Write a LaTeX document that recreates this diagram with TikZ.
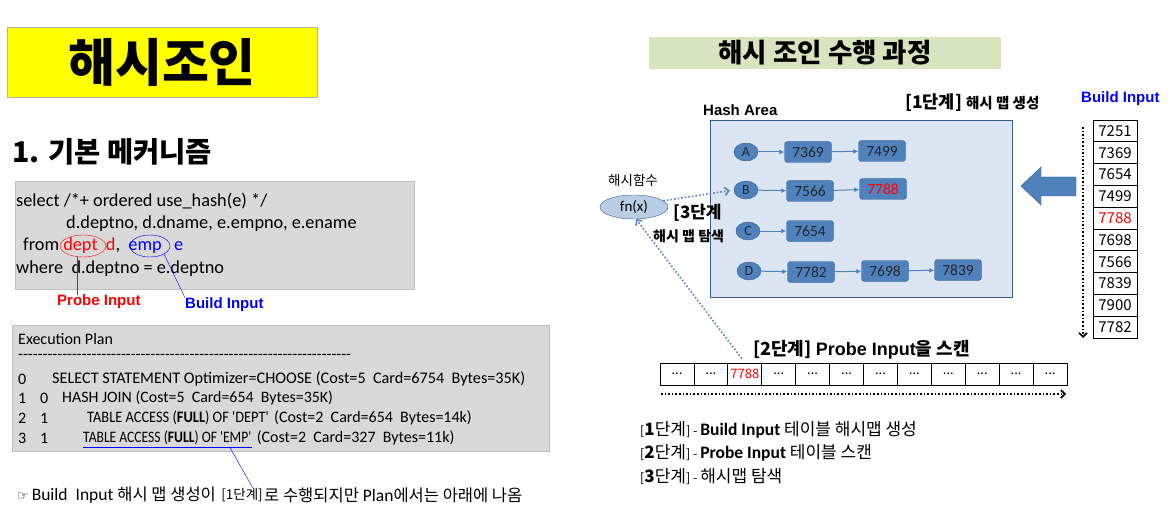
\documentclass[tikz,border=0pt]{standalone}
\usepackage{fontspec}
\setmainfont{Carlito}[Ligatures=TeXOff]
\newfontfamily\kr{Noto Sans CJK KR}
\newfontfamily\lab{Liberation Sans}
\newfontfamily\sym{DejaVu Sans}
\usetikzlibrary{positioning,calc,arrows.meta,shapes.geometric}
\newcommand\fsz[1]{\fontsize{#1}{#1}\selectfont}
\newcommand\skipped{...}
\newcommand\narrow[2][0.9]{\scalebox{#1}[1]{#2}}
\definecolor{boxgray}{HTML}{D9D9D9}
\definecolor{edgegray}{HTML}{BFBFBF}
\definecolor{titleyellow}{HTML}{FFFF00}
\definecolor{titlegreen}{HTML}{D7E4BD}
\definecolor{areablue}{HTML}{DCE6F2}
\definecolor{nodeblue}{HTML}{4F81BD}
\definecolor{darkblue}{HTML}{385D8A}
\definecolor{fnblue}{HTML}{B9CDE5}
\definecolor{dotblue}{HTML}{5B82B5}
\definecolor{sqlred}{HTML}{FF0000}
\definecolor{sqlblue}{HTML}{0000FF}

\begin{document}
\begin{tikzpicture}[x=1pt,y=-1pt,
	txt/.style={inner sep=0pt,anchor=west},
	sql/.style={txt,font=\fsz{18.3}},
	plan/.style={txt,font=\fsz{16}},
	graybox/.style={draw=edgegray,fill=boxgray,inner sep=0pt},
	bucket/.style={ellipse,draw=darkblue,fill=nodeblue,minimum width=24pt,minimum height=18pt,inner sep=0pt,font=\fsz{14},text=black!85},
	rec/.style={draw=darkblue,fill=nodeblue,rounded corners=3pt,minimum width=47pt,minimum height=21pt,inner sep=0pt,font=\fsz{15.5},text=black!85},
	link/.style={-{Latex[length=5pt,width=5pt]},nodeblue,line width=1pt},
	incell/.style={draw,line width=0.8pt,fill=white,minimum width=44pt,minimum height=21.8pt,inner sep=0pt,font=\kr\fsz{15}},
	prcell/.style={draw,line width=0.8pt,fill=white,minimum width=33.92pt,minimum height=22pt,inner sep=0pt,font=\kr\fsz{13}},
	scan/.style={dotted,line width=1.6pt,-{Straight Barb[length=4pt,width=8pt]}},
	boldlab/.style={txt,font=\lab\bfseries\fsz{15}}]
	\useasboundingbox (0,0) rectangle (1168,516);

	\node[draw=gray!60,fill=titleyellow,minimum width=310pt,minimum height=70pt] (title) at (162,62) {};
	\node[font=\kr\bfseries\fsz{51},inner sep=0pt] at (title) {해시조인};
	\node[txt,font=\kr\bfseries\fsz{28.5}] (head) at (12,152) {1. 기본 메커니즘};

	\node[graybox,minimum width=399pt,minimum height=108pt] (sqlbox) at (214.5,235) {};
	\node[sql] (q1) at (16,201) {select /*+ ordered use\_hash(e) */};
	\node[sql] (q2) at (66,224) {d.deptno, d.dname, e.empno, e.ename};
	\node[sql] (q3) at (23,246) {from\ \textcolor{sqlred}{dept\ \ d},\ \ \textcolor{sqlblue}{emp\ \ \ e}};
	\node[sql] (q4) at (16,269) {where\ \ d.deptno = e.deptno};
	\node[ellipse,draw=sqlred,minimum width=46pt,minimum height=22pt] (deptmark) at (83,246) {};
	\node[ellipse,draw=sqlblue,minimum width=40pt,minimum height=22pt] (empmark) at (150,246) {};
	\node[boldlab,text=sqlred] (probelbl) at (57,302) {Probe Input};
	\node[boldlab,text=sqlblue] (buildlbl) at (185,305) {Build Input};
	\draw[sqlred] (deptmark.240) -- (deptmark.240 |- probelbl.north);
	\draw[sqlblue] (empmark.330) -- (buildlbl.north west);

	\node[graybox,minimum width=537pt,minimum height=126pt] (planbox) at (280.5,388) {};
	\node[plan] (p0) at (18,339) {Execution Plan};
	\node[plan] (pd) at (18,357) {--------------------------------------------------------------------};
	\node[plan] at (18,379) {0};
	\node[plan,font=\fsz{16.2}] (r1) at (52,379) {SELECT STATEMENT Optimizer=CHOOSE (Cost=5\ \ Card=6754\ \ Bytes=35K)};
	\node[plan] at (18,398) {1};
	\node[plan] at (40,398) {0};
	\node[plan,font=\fsz{15.9}] (r2) at (62,398) {HASH JOIN (Cost=5\ \ Card=654\ \ Bytes=35K)};
	\node[plan] at (18,418) {2};
	\node[plan] at (40,418) {1};
	\node[plan] (deptacc) at (87,418) {\narrow{TABLE ACCESS (\textbf{FULL}) OF 'DEPT'}};
	\node[plan,right=5pt of deptacc] (r3) {(Cost=2\ \ Card=654\ \ Bytes=14k)};
	\node[plan] at (18,438) {3};
	\node[plan] at (40,438) {1};
	\node[plan] (empacc) at (83,438) {\narrow[0.85]{TABLE ACCESS (\textbf{FULL}) OF 'EMP'}};
	\node[plan,right=5pt of empacc] (r4) {(Cost=2\ \ Card=327\ \ Bytes=11k)};
	\draw[sqlblue] ([yshift=-2pt]empacc.south west) -- ([yshift=-2pt]empacc.south east);

	\node[txt,font=\fsz{17.5}] (note) at (17,495) {{\sym\fsz{13}☞}\,Build\ \ Input {\kr\fsz{16.5}해시 맵 생성이}};
	\node[txt,right=5pt of note,font=\kr\fsz{13.5}] (notestep) {[1단계]};
	\node[txt,right=1pt of notestep,font=\fsz{17.5}] (noterest) {{\kr\fsz{16.5}로 수행되지만} Plan{\kr\fsz{16.5}에서는 아래에 나옴}};
	\draw[sqlblue] ($([yshift=-2pt]empacc.south west)!0.87!([yshift=-2pt]empacc.south east)$) -- ([xshift=-10pt]notestep.north east);

	\node[fill=titlegreen,minimum width=352pt,minimum height=32pt] (title2) at (825,53) {};
	\node[font=\kr\bfseries\fsz{26.5},inner sep=0pt] at (title2) {해시 조인 수행 과정};

	\node[draw=darkblue,fill=areablue,minimum width=302pt,minimum height=177pt,inner sep=0pt] (area) at (861,208.5) {};
	\node[boldlab] (arealbl) at (703,110) {Hash Area};
	\node[txt,font=\kr\bfseries\fsz{17.5}] (step1) at (905,103) {[1단계] {\fsz{14.5}해시 맵 생성}};

	\node[bucket] (A) at (746,152) {A};
	\node[bucket] (B) at (746,190) {B};
	\node[bucket] (C) at (748,231) {C};
	\node[bucket] (D) at (749,271) {D};
	\node[rec] (ha1) at (808,152) {7369};
	\node[rec] (ha2) at (882,151) {7499};
	\node[rec] (hb1) at (810,191) {7566};
	\node[rec,text=sqlred] (hb2) at (883,189) {7788};
	\node[rec] (hc1) at (810,231) {7654};
	\node[rec] (hd1) at (811,272) {7782};
	\node[rec] (hd2) at (885,271) {7698};
	\node[rec] (hd3) at (958,270) {7839};
	\draw[link] (A) -- (ha1);
	\draw[link] (ha1) -- (ha2);
	\draw[link] (B) -- (hb1);
	\draw[link] (hb1) -- (hb2);
	\draw[link] (C) -- (hc1);
	\draw[link] (D) -- (hd1);
	\draw[link] (hd1) -- (hd2);
	\draw[link] (hd2) -- (hd3);

	\filldraw[fill=nodeblue,draw=darkblue,line width=0.4pt] (1021,186) -- (1041,167) -- (1041,177) -- (1076,177) -- (1076,196) -- (1041,196) -- (1041,205) -- cycle;

	\foreach \v [count=\i] in {7251,7369,7654,7499,{\textcolor{sqlred}{7788}},7698,7566,7839,7900,7782}
		\node[incell] (in\i) at (1115,{120+21.8*(\i-0.5)}) {\v};
	\node[boldlab,text=sqlblue] (buildlbl2) at (1081,99) {Build Input};
	\coordinate (intop) at (1083,127);
	\coordinate (inbot) at (1083,338);
	\draw[scan] (intop) -- (inbot);

	\node[font=\kr\fsz{13.5},inner sep=0pt] (fnlbl) at (633,180) {해시함수};
	\node[ellipse,draw=darkblue,fill=fnblue,minimum width=68pt,minimum height=24pt,inner sep=0pt,font=\fsz{15}] (fn) at (634,207) {fn(x)};
	\node[txt,font=\kr\bfseries\fsz{17}] (step3) at (673,213) {[3단계};
	\node[txt,font=\kr\bfseries\fsz{14}] (step3b) at (653,236) {해시 맵 탐색};

	\foreach \v [count=\i] in {\skipped,\skipped,{\textcolor{sqlred}{7788}},\skipped,\skipped,\skipped,\skipped,\skipped,\skipped,\skipped,\skipped,\skipped}
		\node[prcell] (pr\i) at ({660+33.92*(\i-0.5)},374) {\v};
	\node[txt,font=\kr\bfseries\fsz{18}] (step2) at (753,350) {[2단계] {\lab\bfseries Probe Input}을 스캔};
	\coordinate (scanl) at (661,394);
	\coordinate (scanr) at (1066,394);
	\draw[scan] (scanl) -- (scanr);

	\draw[scan,dotblue,shorten >=4pt] (fn.12) -- (B.west);
	\draw[scan,dotblue,shorten <=5pt] (pr3.north) -- (fn.-80);

	\node[txt,font=\kr\fsz{17}] (leg1) at (640,430) {{\fsz{12.5}[}\textbf{1}단계{\fsz{12.5}]}\,{\fsz{12.5}-}\,{\rmfamily\bfseries\fsz{17.5}Build Input} 테이블 해시맵 생성};
	\node[txt,font=\kr\fsz{17}] (leg2) at (640,453) {{\fsz{12.5}[}\textbf{2}단계{\fsz{12.5}]}\,{\fsz{12.5}-}\,{\rmfamily\bfseries\fsz{17.5}Probe Input} 테이블 스캔};
	\node[txt,font=\kr\fsz{17}] (leg3) at (640,477) {{\fsz{12.5}[}\textbf{3}단계{\fsz{12.5}]}\,{\fsz{12.5}-}\,해시맵 탐색};
\end{tikzpicture}
\end{document}
